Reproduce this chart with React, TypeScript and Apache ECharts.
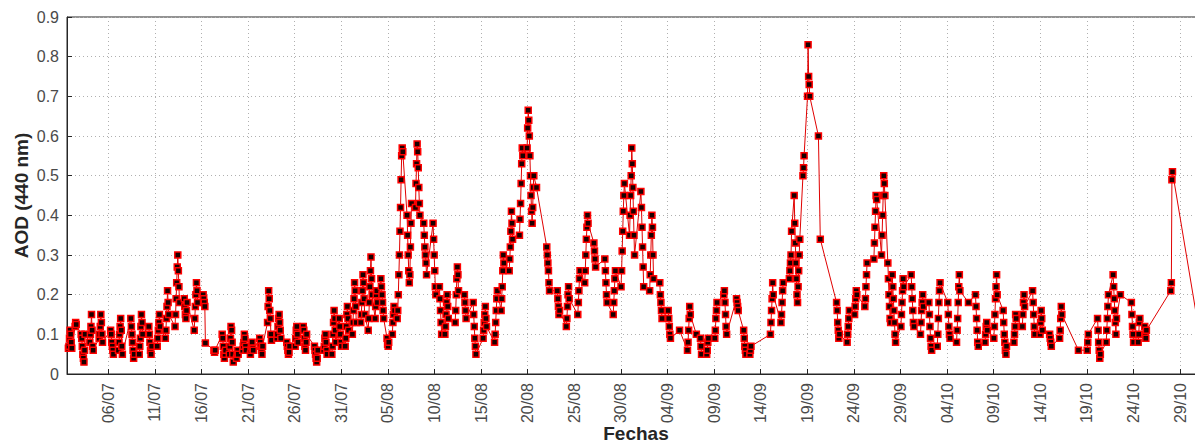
import React, { useEffect, useRef } from "react";
import * as echarts from "echarts";

// Day offsets are counted from 01/07 00:00. Each entry: [day of the cluster, measured AOD values in time order]
const julio: [number, number[]][] = [
  [0.9, [0.065, 0.07, 0.09, 0.11, 0.1, 0.08, 0.065]],
  [1.5, [0.12, 0.13, 0.125]],
  [2.3, [0.1, 0.09, 0.07, 0.05, 0.04, 0.03, 0.06, 0.1]],
  [3.2, [0.08, 0.1, 0.12, 0.15, 0.11, 0.07, 0.06]],
  [4.2, [0.09, 0.1, 0.12, 0.15, 0.13, 0.1, 0.08]],
  [5.4, [0.11, 0.1, 0.08, 0.07, 0.06, 0.05]],
  [6.3, [0.06, 0.08, 0.1, 0.12, 0.14, 0.11, 0.07, 0.05]],
  [7.6, [0.14, 0.12, 0.1, 0.08, 0.06, 0.04, 0.05]],
  [8.5, [0.05, 0.07, 0.09, 0.12, 0.15, 0.13, 0.1]],
  [9.5, [0.12, 0.1, 0.08, 0.06, 0.05, 0.07]],
  [10.4, [0.07, 0.09, 0.11, 0.13, 0.15, 0.12]],
  [11.3, [0.09, 0.11, 0.14, 0.17, 0.21, 0.18, 0.15]],
  [12.4, [0.12, 0.15, 0.19, 0.23, 0.27, 0.3, 0.26, 0.22, 0.18]],
  [13.3, [0.19, 0.17, 0.15, 0.14, 0.16, 0.18]],
  [14.4, [0.11, 0.14, 0.17, 0.2, 0.23, 0.21, 0.18]],
  [15.3, [0.2, 0.19, 0.18, 0.17, 0.078]],
  [16.4, [0.06, 0.055, 0.06]],
  [17.4, [0.1, 0.09, 0.07, 0.05, 0.04, 0.05, 0.06]],
  [18.2, [0.05, 0.07, 0.09, 0.12, 0.11, 0.08, 0.05, 0.03]],
  [18.85, [0.04, 0.05, 0.06, 0.05]],
  [19.6, [0.06, 0.07, 0.08, 0.1, 0.09, 0.07, 0.06]],
  [20.4, [0.05, 0.06, 0.07, 0.08, 0.065, 0.06]],
  [21.4, [0.09, 0.08, 0.07, 0.06, 0.05, 0.07]],
  [22.3, [0.13, 0.17, 0.21, 0.19, 0.16, 0.14, 0.1, 0.085]],
  [23.3, [0.09, 0.1, 0.12, 0.14, 0.15, 0.13, 0.11, 0.09]],
  [24.3, [0.08, 0.07, 0.06, 0.05, 0.055, 0.07]],
  [25.2, [0.07, 0.09, 0.11, 0.12, 0.1, 0.08]],
  [26.1, [0.12, 0.11, 0.09, 0.07, 0.06, 0.08, 0.1]],
  [27.3, [0.07, 0.06, 0.05, 0.04, 0.03, 0.04, 0.06]],
  [28.3, [0.06, 0.07, 0.09, 0.1, 0.08, 0.06, 0.05]],
  [29.2, [0.05, 0.07, 0.1, 0.13, 0.16, 0.14, 0.11, 0.08]],
  [29.9, [0.14, 0.12, 0.1, 0.08, 0.07]],
  [30.6, [0.07, 0.09, 0.12, 0.15, 0.17, 0.14, 0.11]],
];

const agosto: [number, number[]][] = [
  [31.4, [0.1, 0.13, 0.16, 0.19, 0.23, 0.21, 0.17, 0.13]],
  [32.3, [0.13, 0.15, 0.18, 0.21, 0.25, 0.23, 0.19, 0.15]],
  [33.1, [0.11, 0.14, 0.18, 0.22, 0.26, 0.295, 0.24, 0.2]],
  [33.75, [0.14, 0.17, 0.2, 0.21, 0.18]],
  [34.4, [0.24, 0.22, 0.2, 0.18, 0.16, 0.14]],
  [35.0, [0.09, 0.075, 0.07, 0.08]],
  [35.6, [0.1, 0.13, 0.15, 0.17, 0.16]],
  [36.3, [0.14, 0.16, 0.2, 0.25, 0.3, 0.36, 0.42, 0.49, 0.55, 0.57, 0.56]],
  [37.3, [0.4, 0.35, 0.3, 0.26, 0.23, 0.25, 0.32, 0.38, 0.43]],
  [38.2, [0.42, 0.48, 0.53, 0.58, 0.56, 0.52, 0.47, 0.43, 0.4]],
  [39.0, [0.38, 0.35, 0.32, 0.3, 0.28, 0.25]],
  [40.0, [0.38, 0.34, 0.3, 0.26, 0.22, 0.2]],
  [40.65, [0.22, 0.19, 0.16, 0.13, 0.1]],
  [41.3, [0.1, 0.12, 0.15, 0.18, 0.2, 0.17, 0.14]],
  [42.4, [0.13, 0.16, 0.2, 0.24, 0.27, 0.25, 0.21]],
  [43.3, [0.2, 0.18, 0.16, 0.14]],
  [44.3, [0.18, 0.15, 0.12, 0.09, 0.07, 0.05]],
  [45.4, [0.09, 0.11, 0.13, 0.15, 0.17, 0.14, 0.12]],
  [46.6, [0.08, 0.1, 0.13, 0.16, 0.19, 0.21]],
  [47.3, [0.16, 0.19, 0.22, 0.26, 0.3, 0.28]],
  [48.2, [0.26, 0.29, 0.32, 0.36, 0.41, 0.38, 0.34]],
  [49.3, [0.35, 0.39, 0.43, 0.48, 0.53, 0.57, 0.55]],
  [50.3, [0.57, 0.62, 0.665, 0.64, 0.6, 0.55, 0.5, 0.45, 0.41, 0.38, 0.42, 0.47, 0.5]],
  [50.95, [0.47]],
  [52.2, [0.32, 0.3, 0.28, 0.26, 0.23, 0.21]],
  [53.3, [0.21, 0.19, 0.17, 0.15, 0.16]],
  [54.3, [0.12, 0.14, 0.17, 0.2, 0.22, 0.19]],
  [55.5, [0.15, 0.18, 0.21, 0.24, 0.26]],
  [56.3, [0.23, 0.26, 0.3, 0.34, 0.37, 0.4, 0.38]],
  [57.2, [0.33, 0.31, 0.29, 0.27]],
  [58.4, [0.29, 0.26, 0.23, 0.2, 0.18]],
  [59.3, [0.15, 0.18, 0.21, 0.24, 0.26]],
  [60.2, [0.22, 0.26, 0.31, 0.36, 0.41, 0.45, 0.48]],
  [61.2, [0.35, 0.4, 0.45, 0.5, 0.57, 0.53, 0.47, 0.41, 0.35, 0.3]],
];

const septiembre: [number, number[]][] = [
  [62.3, [0.46, 0.42, 0.37, 0.32, 0.27, 0.22]],
  [63.3, [0.21, 0.25, 0.3, 0.35, 0.4, 0.37, 0.3, 0.24]],
  [64.3, [0.23, 0.2, 0.18, 0.16, 0.14]],
  [65.2, [0.16, 0.14, 0.12, 0.1, 0.09]],
  [66.3, [0.11]],
  [67.3, [0.06, 0.08, 0.11, 0.14, 0.17, 0.15]],
  [68.1, [0.1]],
  [68.6, [0.09, 0.07, 0.05]],
  [69.3, [0.05, 0.06, 0.08, 0.09]],
  [70.2, [0.09, 0.11, 0.14, 0.16, 0.18]],
  [71.2, [0.2, 0.21, 0.18, 0.15, 0.12, 0.1]],
  [72.5, [0.19, 0.18, 0.17, 0.16]],
  [73.3, [0.11, 0.09, 0.07, 0.06, 0.05]],
  [73.9, [0.05, 0.06, 0.07]],
  [76.2, [0.1, 0.13, 0.16, 0.19, 0.23, 0.2]],
  [77.3, [0.13, 0.15, 0.18, 0.21, 0.23]],
  [78.2, [0.24, 0.26, 0.28, 0.3, 0.36]],
  [78.9, [0.45, 0.38, 0.33, 0.28, 0.24, 0.2, 0.18, 0.22, 0.26, 0.3, 0.34]],
  [79.6, [0.5, 0.52, 0.55]],
  [80.15, [0.7, 0.83, 0.75, 0.73, 0.7]],
  [81.2, [0.6]],
  [81.4, [0.34]],
  [83.3, [0.18, 0.16, 0.13, 0.11, 0.09, 0.1]],
  [84.4, [0.08, 0.1, 0.12, 0.14, 0.16]],
  [85.2, [0.15, 0.17, 0.19, 0.21, 0.2]],
  [86.3, [0.17, 0.19, 0.22, 0.25, 0.28]],
  [87.3, [0.29, 0.33, 0.37, 0.41, 0.45, 0.44]],
  [88.15, [0.3, 0.35, 0.4, 0.45, 0.5, 0.48, 0.45]],
  [88.8, [0.28, 0.24, 0.2, 0.17, 0.14, 0.13]],
  [89.3, [0.25, 0.22, 0.19, 0.16, 0.13, 0.1, 0.08]],
  [90.2, [0.12, 0.15, 0.18, 0.21, 0.24, 0.22]],
  [91.3, [0.25, 0.22, 0.19, 0.16, 0.13, 0.12]],
];

const octubre: [number, number[]][] = [
  [92.3, [0.1, 0.13, 0.16, 0.18, 0.2, 0.17]],
  [93.2, [0.18, 0.15, 0.12, 0.09, 0.07, 0.06]],
  [94.1, [0.07, 0.1, 0.14, 0.18, 0.21, 0.23]],
  [95.2, [0.18, 0.15, 0.12, 0.1, 0.09]],
  [96.2, [0.08, 0.11, 0.14, 0.18, 0.22, 0.25, 0.21]],
  [97.3, [0.18]],
  [98.2, [0.2, 0.17, 0.14, 0.11, 0.08, 0.07]],
  [99.2, [0.08, 0.1, 0.12, 0.13, 0.11]],
  [100.2, [0.09, 0.12, 0.15, 0.19, 0.22, 0.25, 0.2]],
  [101.2, [0.16, 0.13, 0.1, 0.08, 0.06, 0.05, 0.07]],
  [102.3, [0.08, 0.1, 0.12, 0.15, 0.14]],
  [103.2, [0.12, 0.15, 0.18, 0.2, 0.17]],
  [104.3, [0.21, 0.18, 0.15, 0.12, 0.1]],
  [105.1, [0.1, 0.13, 0.16, 0.14, 0.11]],
  [106.1, [0.1, 0.09, 0.08, 0.07]],
  [107.2, [0.09, 0.11, 0.14, 0.17, 0.15]],
  [109.1, [0.06]],
  [110.1, [0.06, 0.08, 0.1]],
  [111.3, [0.14, 0.11, 0.08, 0.06, 0.04, 0.05]],
  [112.2, [0.08, 0.11, 0.14, 0.17, 0.2]],
  [113.0, [0.25, 0.22, 0.19, 0.16, 0.13, 0.1, 0.14]],
  [113.6, [0.2]],
  [114.9, [0.18, 0.15, 0.12, 0.1, 0.08]],
  [115.6, [0.08, 0.1, 0.13, 0.14]],
  [116.3, [0.12, 0.1, 0.09, 0.11]],
  [119.1, [0.21, 0.23, 0.49, 0.51]],
  [122.1, [0.1]],
];

const tickLabels = [
  "06/07", "11/07", "16/07", "21/07", "26/07", "31/07", "05/08", "10/08",
  "15/08", "20/08", "25/08", "30/08", "04/09", "09/09", "14/09", "19/09",
  "24/09", "29/09", "04/10", "09/10", "14/10", "19/10", "24/10", "29/10",
];

const yTicks = [0, 0.1, 0.2, 0.3, 0.4, 0.5, 0.6, 0.7, 0.8, 0.9];

const BASE = Date.UTC(2000, 6, 1);
const dayOf = (lbl: string) => {
  const [d, m] = lbl.split("/").map(Number);
  return Math.round((Date.UTC(2000, m - 1, d) - BASE) / 86400000);
};
const tickDays = tickLabels.map(dayOf);

const buildPoints = () => {
  const pts: [number, number][] = [];
  const step = 0.06; // about 1.5 h between measurements within a day
  [julio, agosto, septiembre, octubre].forEach((month) => {
    month.forEach(([day, vals]) => {
      const n = vals.length;
      vals.forEach((v, i) => {
        pts.push([day + (i - (n - 1) / 2) * step, v]);
      });
    });
  });
  return pts;
};

const FONT = "'Liberation Sans', Arial, Helvetica, sans-serif";

export default function App() {
  const ref = useRef<HTMLDivElement>(null);
  useEffect(() => {
    if (!ref.current) return;
    const chart = echarts.init(ref.current, undefined, { renderer: "svg" });
    const points = buildPoints();
    chart.setOption({
      animation: false,
      backgroundColor: "#ffffff",
      grid: {
        left: 67,
        right: -10,
        top: 17,
        bottom: 73,
        show: true,
        borderColor: "#262626",
        borderWidth: 1,
        backgroundColor: "transparent",
        containLabel: false,
        outerBoundsMode: "none",
      },
      xAxis: {
        type: "value",
        min: 0.57,
        max: 122.68,
        name: "Fechas",
        nameLocation: "middle",
        nameGap: 50,
        nameMoveOverlap: false,
        nameTextStyle: {
          fontFamily: FONT,
          fontSize: 19,
          fontWeight: "bold",
          color: "#262626",
        },
        axisLine: { show: true, lineStyle: { color: "#262626", width: 1 } },
        axisTick: {
          show: true,
          inside: true,
          length: 5,
          customValues: tickDays,
          lineStyle: { color: "#262626" },
        },
        axisLabel: {
          show: true,
          customValues: tickDays,
          rotate: 90,
          margin: 9,
          fontFamily: FONT,
          fontSize: 16,
          color: "#4a4a4a",
          formatter: (v: number) => {
            const i = tickDays.indexOf(Math.round(v));
            return i >= 0 ? tickLabels[i] : "";
          },
        },
        splitLine: {
          show: true,
          lineStyle: { color: "#b0b0b0", type: [1, 3], width: 1 },
        },
      },
      yAxis: {
        type: "value",
        min: 0,
        max: 0.9,
        interval: 0.1,
        name: "AOD (440 nm)",
        nameLocation: "middle",
        nameGap: 36,
        nameMoveOverlap: false,
        nameTextStyle: { fontFamily: FONT, fontSize: 19, fontWeight: "bold", color: "#262626" },
        axisLine: { show: true, lineStyle: { color: "#262626", width: 1 } },
        axisTick: { show: true, inside: true, length: 5, lineStyle: { color: "#262626" } },
        axisLabel: {
          margin: 8,
          fontFamily: FONT,
          fontSize: 16,
          color: "#4a4a4a",
          formatter: (v: number) => {
            const t = yTicks.find((y) => Math.abs(y - v) < 1e-6);
            return t === 0 ? "0" : (t ?? v).toFixed(1);
          },
        },
        splitLine: {
          show: true,
          lineStyle: { color: "#b0b0b0", type: [1, 3], width: 1 },
        },
      },
      series: [
        {
          type: "line",
          data: points,
          clip: true,
          symbol: "rect",
          symbolSize: 6,
          showSymbol: true,
          lineStyle: { color: "#e00000", width: 1 },
          itemStyle: { color: "#1a0000", borderColor: "#ff0000", borderWidth: 1.5 },
          emphasis: { disabled: true },
        },
      ],
    });
    return () => chart.dispose();
  }, []);
  return (
    <div
      ref={ref}
      style={{ position: "absolute", left: 0, top: 0, width: 1195, height: 447 }}
    />
  );
}
